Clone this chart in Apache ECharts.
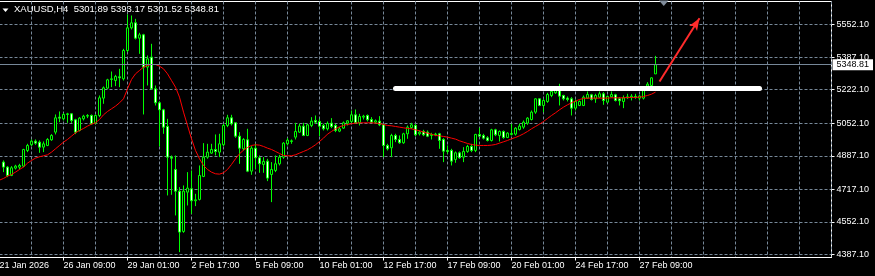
<!DOCTYPE html>
<html>
<head>
<meta charset="utf-8">
<script src="https://cdn.jsdelivr.net/npm/echarts@6/dist/echarts.min.js"></script>
<style>
html,body{margin:0;padding:0;background:#000;}
#chart{width:875px;height:276px;}
</style>
</head>
<body>
<div id="chart"></div>
<script>
// ---- data (XAUUSD H4) ----
const symbolName = 'XAUUSD';
const timeframe = 'H4';
const firstBarTime = Date.UTC(2026, 0, 21, 17); // first (partly hidden) bar
const barCount = 209;                           // visible slots incl. chart shift

const xTickLabels = ['21 Jan 2026', '26 Jan 09:00', '29 Jan 01:00', '2 Feb 17:00', '5 Feb 09:00',
  '10 Feb 01:00', '12 Feb 17:00', '17 Feb 09:00', '20 Feb 01:00', '24 Feb 17:00', '27 Feb 09:00'];
const yTickValues = [4387.10, 4552.10, 4717.10, 4887.10, 5052.10, 5222.10, 5387.10, 5552.10];
const yMin = 4371.9;
const yMax = 5668.6;

const opens = [
4855.0,4829.7,4787.5,4824.6,4829.7,4834.7,4914.1,4942.8,4961.3,4956.3,
4930.9,4939.4,4968.1,5006.9,5082.9,5074.4,5096.4,5099.7,5069.4,5015.3,
5074.4,5087.9,5091.3,5052.5,5091.3,5179.1,5229.7,5273.6,5268.5,5287.1,
5277.0,5420.5,5535.2,5560.6,5482.9,5499.8,5336.1,5386.7,5226.3,5155.4,
5120.0,5035.6,4880.3,4817.8,4708.1,4503.9,4703.1,4719.9,4659.2,4665.9,
4782.4,4880.3,4900.6,4919.1,4905.6,4942.8,5040.7,5079.5,5054.2,4986.6,
4922.5,4968.1,4809.4,4925.9,4876.9,4843.2,4860.0,4792.5,4812.8,4846.5,
4880.3,4947.8,4959.6,4981.6,5006.9,5037.3,4990.0,5040.7,5066.0,5060.9,
5040.7,5023.8,5052.5,5040.7,5012.0,5027.2,5052.5,5060.9,5094.7,5054.2,
5082.9,5091.3,5071.0,5057.5,5062.6,5044.0,4939.4,4927.6,4990.0,4969.8,
4952.9,4998.5,5030.5,5040.7,4998.5,5010.3,5006.9,4990.0,4993.4,4998.5,
4969.8,4914.1,4914.1,4868.5,4902.2,4880.3,4909.0,4934.3,4914.1,4995.1,
4990.0,4978.2,4964.7,5018.7,4990.0,5010.3,4979.9,4995.1,4996.8,5020.4,
5032.2,5052.5,5071.0,5108.2,5175.7,5141.9,5162.2,5192.6,5206.1,5217.9,
5192.6,5179.1,5175.7,5128.4,5141.9,5141.9,5179.1,5196.0,5175.7,5184.1,
5201.0,5158.8,5185.8,5196.0,5175.7,5162.2,5180.8,5184.1,5187.5,5179.1,
5179.1,5239.8,5243.2,5301.89];

const highs = [
4863.4,4834.7,4834.7,4841.5,4846.5,4922.5,4947.8,4969.8,4969.8,4964.7,
4959.6,4976.5,4996.8,5096.4,5111.6,5103.1,5104.8,5103.1,5074.4,5082.9,
5094.7,5098.1,5096.4,5096.4,5192.6,5238.2,5277.0,5314.1,5297.2,5327.6,
5428.9,5603.0,5597.7,5580.8,5509.9,5504.9,5395.1,5454.2,5243.2,5162.2,
5125.1,5074.4,4888.7,4888.7,4728.4,4736.8,4804.3,4812.8,4694.6,4838.1,
4951.2,4947.8,4947.8,4995.1,4998.5,5049.1,5094.7,5094.7,5057.5,5006.9,
4976.5,5023.8,4936.0,4947.8,4888.7,4880.3,4871.9,4855.0,4888.7,4892.1,
4956.3,4976.5,4969.8,5054.2,5049.1,5054.2,5049.1,5082.9,5091.3,5074.4,
5049.1,5060.9,5077.8,5049.1,5032.2,5060.9,5067.7,5116.6,5121.7,5099.7,
5094.7,5096.4,5082.9,5071.0,5087.9,5049.1,4947.8,4998.5,4998.5,4990.0,
5003.5,5040.7,5054.2,5049.1,5015.3,5018.7,5015.3,5003.5,5003.5,5003.5,
4976.5,4939.4,4922.5,4909.0,4909.0,4930.9,4942.8,4947.8,4998.5,5028.8,
4998.5,4986.6,5023.8,5023.8,5015.3,5015.3,5006.9,5049.1,5032.2,5049.1,
5066.0,5082.9,5116.6,5179.1,5179.1,5175.7,5206.1,5223.0,5226.3,5251.7,
5196.0,5187.5,5184.1,5172.3,5167.3,5192.6,5212.8,5201.0,5201.0,5212.8,
5209.5,5192.6,5212.8,5201.0,5184.1,5192.6,5201.0,5199.3,5201.0,5196.0,
5223.0,5260.1,5285.4,5393.17];

const lows = [
4804.3,4779.0,4784.1,4817.8,4817.8,4829.7,4905.6,4936.0,4942.8,4902.2,
4905.6,4936.0,4963.0,4995.1,5057.5,5066.0,5054.2,5054.2,4996.8,5010.3,
5066.0,5077.8,5045.7,5047.4,5082.9,5150.4,5226.3,5234.8,5239.8,5234.8,
5268.5,5412.0,5526.8,5476.2,5403.6,5096.4,5243.2,5223.0,5141.9,4934.3,
4998.5,4686.2,4689.6,4584.9,4399.2,4497.1,4635.5,4593.3,4632.2,4660.9,
4779.0,4871.9,4897.2,4888.7,4880.3,4936.0,5032.2,5040.7,4978.2,4846.5,
4914.1,4804.3,4790.8,4821.2,4801.0,4801.0,4758.8,4652.4,4804.3,4838.1,
4871.9,4939.4,4947.8,4969.8,5003.5,4986.6,4986.6,5032.2,5049.1,4986.6,
5015.3,5015.3,5027.2,5006.9,5006.9,5023.8,5040.7,5054.2,5049.1,5040.7,
5071.0,5060.9,5054.2,5049.1,5037.3,4880.3,4914.1,4880.3,4956.3,4947.8,
4947.8,4973.1,5023.8,4986.6,4990.0,4986.6,4981.6,4969.8,4986.6,4922.5,
4855.0,4897.2,4838.1,4851.6,4871.9,4855.0,4902.2,4905.6,4905.6,4981.6,
4969.8,4959.6,4959.6,4986.6,4959.6,4973.1,4976.5,4990.0,4990.0,5015.3,
5023.8,5044.0,5066.0,5099.7,5138.6,5108.2,5155.4,5184.1,5201.0,5141.9,
5167.3,5162.2,5091.3,5116.6,5138.6,5138.6,5175.7,5167.3,5155.4,5179.1,
5145.3,5155.4,5182.5,5162.2,5141.9,5128.4,5175.7,5167.3,5175.7,5167.3,
5172.3,5217.9,5239.8,5301.52];

const closes = [
4829.7,4787.5,4826.3,4834.7,4838.1,4919.1,4939.4,4961.3,4951.2,4930.9,
4947.8,4969.8,4990.0,5079.5,5077.8,5096.4,5099.7,5066.0,5006.9,5077.8,
5087.9,5091.3,5049.1,5091.3,5180.8,5231.4,5271.9,5277.0,5288.8,5282.0,
5420.5,5535.2,5560.6,5482.9,5499.8,5336.1,5378.3,5226.3,5155.4,5120.0,
5032.2,4880.3,4875.2,4708.1,4500.5,4708.1,4723.3,4659.2,4664.2,4787.5,
4880.3,4905.6,4919.1,4909.0,4947.8,5040.7,5079.5,5049.1,4986.6,4925.9,
4969.8,4809.4,4925.9,4876.9,4846.5,4858.4,4774.0,4817.8,4846.5,4880.3,
4951.2,4966.4,4963.0,5010.3,5037.3,4990.0,5044.0,5062.6,5057.5,5037.3,
5023.8,5050.8,5035.6,5015.3,5023.8,5054.2,5064.3,5094.7,5054.2,5086.2,
5087.9,5069.4,5057.5,5064.3,5044.0,4939.4,4922.5,4990.0,4969.8,4952.9,
4998.5,5032.2,5044.0,4993.4,5006.9,4993.4,4986.6,4995.1,4996.8,4964.7,
4910.7,4909.0,4860.0,4902.2,4876.9,4909.0,4934.3,4914.1,4995.1,4986.6,
4976.5,4964.7,5018.7,4993.4,5010.3,4979.9,5001.8,5000.1,5027.2,5037.3,
5057.5,5077.8,5108.2,5175.7,5141.9,5167.3,5197.6,5212.8,5217.9,5189.2,
5175.7,5172.3,5128.4,5162.2,5162.2,5184.1,5197.6,5172.3,5192.6,5201.0,
5167.3,5187.5,5197.6,5167.3,5165.6,5180.8,5185.8,5189.2,5182.5,5189.2,
5217.9,5250.0,5282.0,5348.81];

// moving average as drawn (first value belongs to the partly hidden bar)
const maValues = [4763.8,
4772.3,4784.1,4792.5,4804.3,4817.8,4829.7,4849.9,4863.4,4875.2,4882.0,
4887.1,4892.1,4905.6,4922.5,4939.4,4956.3,4969.8,4986.6,5003.5,5015.3,
5025.5,5037.3,5047.4,5054.2,5071.0,5094.7,5111.6,5125.1,5138.6,5155.4,
5175.7,5226.3,5273.6,5302.3,5319.2,5336.1,5344.5,5349.6,5349.6,5341.1,
5327.6,5302.3,5268.5,5234.8,5184.1,5108.2,5040.7,4973.1,4914.1,4871.9,
4838.1,4817.8,4804.3,4795.9,4794.2,4801.0,4817.8,4843.2,4871.9,4897.2,
4915.7,4929.3,4939.4,4942.8,4941.1,4934.3,4925.9,4919.1,4909.0,4898.9,
4888.7,4887.1,4887.1,4892.1,4900.6,4909.0,4917.4,4929.3,4942.8,4959.6,
4976.5,4996.8,5010.3,5023.8,5033.9,5040.7,5045.7,5049.1,5052.5,5054.2,
5054.2,5054.2,5054.2,5052.5,5050.8,5045.7,5040.7,5039.0,5035.6,5032.2,
5028.8,5025.5,5023.8,5018.7,5013.7,5006.9,5001.8,4996.8,4990.0,4988.3,
4985.0,4981.6,4976.5,4971.5,4963.0,4956.3,4949.5,4944.4,4941.1,4939.4,
4939.4,4939.4,4941.1,4944.4,4951.2,4957.9,4964.7,4973.1,4979.9,4988.3,
4998.5,5010.3,5023.8,5035.6,5047.4,5060.9,5076.1,5091.3,5104.8,5120.0,
5133.5,5145.3,5155.4,5163.9,5172.3,5177.4,5179.1,5179.1,5179.1,5179.1,
5179.1,5179.1,5180.8,5180.8,5180.8,5180.8,5182.5,5182.5,5182.5,5184.1,
5187.5,5192.6,5199.3,5209.5];

// drawn objects (in bar slot index / price)
const levelLine = { from: 99, to: 190, price: 5230.5 };
const arrowLine = { from: [165, 5263.4], to: [175, 5583.5] };

// ---- build ----
const MON = ['Jan','Feb','Mar','Apr','May','Jun','Jul','Aug','Sep','Oct','Nov','Dec'];
const categories = [];
let t = firstBarTime;
for (let k = 0; k < barCount; k++) {
  const d = new Date(t);
  categories.push(d.getUTCDate() + ' ' + MON[d.getUTCMonth()] + ' ' + String(d.getUTCHours()).padStart(2, '0') + ':00');
  do { t += 4 * 3600e3; } while ([0, 6].indexOf(new Date(t).getUTCDay()) >= 0);
}

const candleData = [['-', '-', '-', '-']];
for (let i = 0; i < opens.length; i++) candleData.push([opens[i], closes[i], lows[i], highs[i]]);

const last = opens.length - 1;
const lastPrice = closes[last];
const titleText = symbolName + ',' + timeframe + '  ' + [opens[last], highs[last], lows[last], closes[last]].map(v => v.toFixed(2)).join(' ');

const FONT = '"Liberation Sans", Arial, sans-serif';
const GRID_COLOR = '#778899';
const isTick = (idx, val) => xTickLabels.indexOf(val) >= 0;

const chart = echarts.init(document.getElementById('chart'), null, { renderer: 'canvas' });
chart.setOption({
  backgroundColor: '#000',
  animation: false,
  title: {
    text: titleText, left: 14, top: 4.5, padding: 0,
    textStyle: { color: '#fff', fontSize: 9.5, fontWeight: 'normal', fontFamily: FONT }
  },
  grid: {
    left: -0.5, top: 1.5, width: 832, height: 256,
    show: true, borderColor: '#fff', borderWidth: 1, backgroundColor: 'transparent',
    containLabel: false, outerBoundsMode: 'none'
  },
  xAxis: {
    type: 'category', data: categories, boundaryGap: false,
    axisLine: { show: true, lineStyle: { color: '#fff', width: 1 } },
    axisTick: { show: true, length: 3, interval: isTick, lineStyle: { color: '#fff' } },
    axisLabel: {
      interval: (idx, val) => idx === 0 || isTick(idx, val),
      formatter: (val, idx) => idx === 0 ? xTickLabels[0] : val,
      color: '#fff', fontSize: 9, fontFamily: FONT, align: 'left', margin: 4
    },
    splitLine: { show: true, interval: (idx) => idx > 0 && idx % 8 === 0,
      lineStyle: { color: GRID_COLOR, type: [3, 2], width: 1 } }
  },
  yAxis: {
    type: 'value', position: 'right', min: yMin, max: yMax, scale: true,
    axisLine: { show: false },
    axisTick: { show: true, length: 3, customValues: yTickValues, lineStyle: { color: '#fff' } },
    axisLabel: { customValues: yTickValues, formatter: v => v.toFixed(2),
      color: '#fff', fontSize: 9, fontFamily: FONT, margin: 5 },
    splitLine: { show: true, lineStyle: { color: GRID_COLOR, type: [3, 2], width: 1 } }
  },
  series: [
    {
      type: 'candlestick', data: candleData, barWidth: 2, z: 2,
      itemStyle: { color: '#000', color0: '#fff', borderColor: '#00ff00', borderColor0: '#00ff00', borderWidth: 1 },
      emphasis: { disabled: true },
      markLine: {
        silent: true, symbol: ['none', 'none'], animation: false, precision: 2,
        data: [
          { yAxis: lastPrice,
            lineStyle: { color: GRID_COLOR, type: 'solid', width: 1 },
            label: { show: true, position: 'end', distance: 1, formatter: () => lastPrice.toFixed(2),
              color: '#000', backgroundColor: '#fff', padding: [1, 4, 1, 4],
              fontSize: 9, lineHeight: 9, fontFamily: FONT } },
          [ { coord: [levelLine.from, levelLine.price],
              lineStyle: { color: '#fff', width: 5, type: 'solid', cap: 'round' }, label: { show: false } },
            { coord: [levelLine.to, levelLine.price] } ],
          [ { coord: arrowLine.from, symbol: 'none',
              lineStyle: { color: '#ff2b2b', width: 2, type: 'solid' }, label: { show: false } },
            { coord: arrowLine.to, symbol: 'arrow', symbolSize: [7, 12] } ]
        ]
      }
    },
    {
      type: 'line', data: maValues, symbol: 'none', z: 3, smooth: false,
      lineStyle: { color: '#ff0000', width: 1 }, emphasis: { disabled: true }
    }
  ],
  graphic: [
    { type: 'polygon', shape: { points: [[2.5, 8.5], [8.5, 8.5], [5.5, 12]] }, style: { fill: '#fff' } },
    { type: 'polygon', shape: { points: [[659, 0.5], [668.5, 0.5], [663.75, 6]] }, style: { fill: '#7f8b99' } }
  ]
});
</script>
</body>
</html>
